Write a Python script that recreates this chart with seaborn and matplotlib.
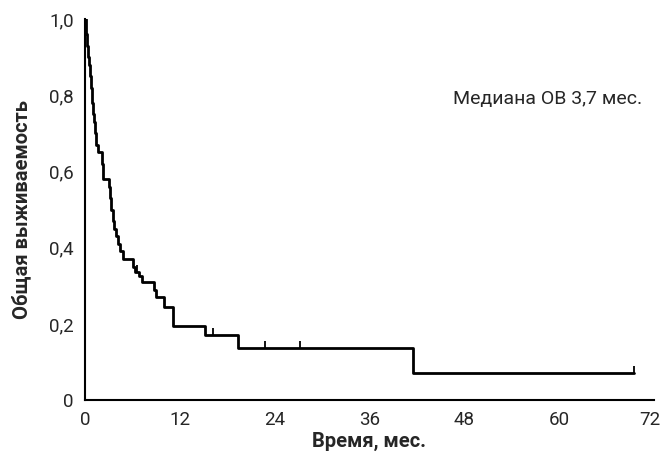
import matplotlib
matplotlib.use("Agg")
import matplotlib.pyplot as plt
import matplotlib.transforms as mtransforms
import seaborn as sns
import numpy as np

sns.set_style("white")
plt.rcParams["font.family"] = ["Roboto", "DejaVu Sans"]

# Kaplan-Meier steps (months, survival)
times = [0, 0.15, 0.25, 0.35, 0.5, 0.6, 0.75, 0.9, 1.0, 1.1, 1.25, 1.4, 1.6,
         2.2, 2.3, 3.0, 3.15, 3.3, 3.5, 3.7, 3.9, 4.2, 4.5, 4.8, 6.1, 6.4, 6.8,
         7.2, 8.7, 9.0, 10.0, 11.1, 15.2, 19.4, 41.5, 69.5]
surv = [1.0, 0.96, 0.93, 0.90, 0.88, 0.85, 0.82, 0.78, 0.75, 0.73, 0.70, 0.67, 0.65,
        0.62, 0.58, 0.56, 0.53, 0.50, 0.47, 0.45, 0.43, 0.41, 0.39, 0.37, 0.35, 0.335, 0.325,
        0.31, 0.29, 0.27, 0.245, 0.195, 0.17, 0.137, 0.07, 0.07]

# censored observations
cens_t = [6.6, 16.2, 22.8, 27.2, 69.5]
cens_s = [0.335, 0.17, 0.137, 0.137, 0.07]

xticks = [0, 12, 24, 36, 48, 60, 72]
yticks = [0, 0.2, 0.4, 0.6, 0.8, 1.0]
ylabels = ["0", "0,2", "0,4", "0,6", "0,8", "1,0"]

fig = plt.figure(figsize=(6.63, 4.61), dpi=100)
ax = fig.add_axes([0.128, 0.132, 0.858, 0.827])

sns.lineplot(x=times, y=surv, drawstyle="steps-post", estimator=None, sort=False,
             color="black", lw=2, ax=ax)
ax.scatter(cens_t, [s + 0.008 for s in cens_s], marker="|", s=40, color="black", lw=1.3)

ax.set_xlim(0, 72)
ax.set_ylim(0, 1.0)
ax.set_xticks(xticks)
ax.set_xticklabels([str(t) for t in xticks], fontsize=13.5)
ax.set_yticks(yticks)
ax.set_yticklabels(ylabels, fontsize=13.5)
ax.tick_params(axis="both", direction="out", length=5, width=1.5, color="black", pad=3)

# the last x label sits right at the figure edge, nudge it a little inward
last = ax.get_xticklabels()[-1]
last.set_transform(last.get_transform() +
                   mtransforms.ScaledTranslation(-4 / 100, 0, fig.dpi_scale_trans))

for side in ["top", "right"]:
    ax.spines[side].set_visible(False)
for side in ["left", "bottom"]:
    ax.spines[side].set_color("black")
    ax.spines[side].set_linewidth(1.5)
ax.spines["left"].set_zorder(3)

ax.set_xlabel("Время, мес.", fontsize=14.5, fontweight="bold", labelpad=2)
ax.set_ylabel("Общая выживаемость", fontsize=14.5, fontweight="bold", labelpad=13)

ax.text(58.6, 0.79, "Медиана ОВ 3,7 мес.", fontsize=14, ha="center", va="center")

fig.savefig("out.png", dpi=100)
